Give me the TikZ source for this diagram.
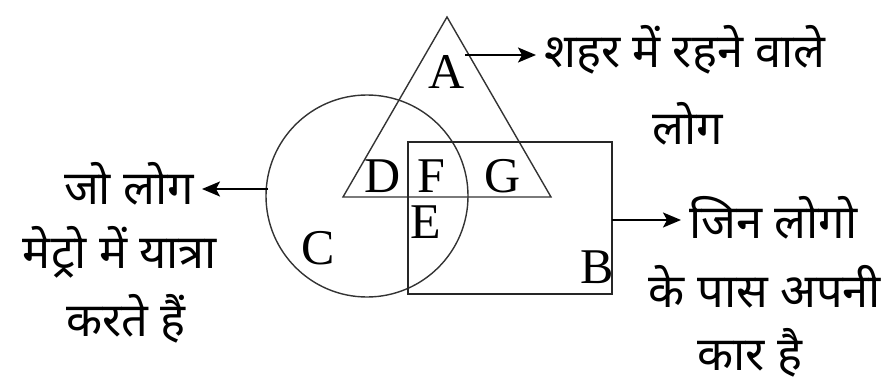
\documentclass[tikz,border=0pt]{standalone}
\usepackage{fontspec}
\setmainfont{Liberation Serif}
\newfontfamily\deva[Script=Devanagari]{Noto Sans}
\usetikzlibrary{arrows.meta}
\tikzset{
  shape line/.style={draw=black!80, line width=1.4pt},
  box line/.style={draw=black!85, line width=2.2pt},
  pointer/.style={draw=black, line width=2pt, shorten >=8pt, -{Stealth[length=18pt,width=15pt,inset=4pt]}},
  region/.style={font=\fontsize{50}{50}\selectfont, inner sep=0pt},
  htext/.style={font=\deva\fontsize{47}{48}\selectfont, inner sep=0pt},
}
\begin{document}
\begin{tikzpicture}[x=1pt,y=-1pt]
\useasboundingbox (0,0) rectangle (893,385);
% shapes
\draw[shape line] (447,17) -- (551,197) -- (343,197) -- cycle;
\draw[shape line] (367,196) circle (101);
\draw[box line] (408,142) rectangle (612,294);
% region labels
\node[region] (A) at (447,72) {A};
\node[region] (D) at (383,176) {D};
\node[region] (F) at (431,176) {F};
\node[region] (G) at (503,176) {G};
\node[region] (E) at (426,222) {E};
\node[region] (C) at (318,248) {C};
\node[region] (B) at (597,267) {B};
% texts
\node[htext, anchor=west] (t1) at (544,50) {शहर में रहने वाले};
\node[htext] (t1b) at (688,124) {लोग};
\node[htext, anchor=east] (t2) at (194,184) {जो लोग};
\node[htext] (t2b) at (120,252) {मेट्रो में यात्रा};
\node[htext] (t2c) at (126,319) {करते हैं};
\node[htext, anchor=west] (t3) at (689,218) {जिन लोगो};
\node[htext] (t3b) at (765,287) {के पास अपनी};
\node[htext] (t3c) at (750,353) {कार है};
% connectors
\coordinate (sA) at (465,55);
\coordinate (sC) at (268,189);
\coordinate (sB) at (612,220);
\draw[pointer] (sA) -- (sA -| t1.west);
\draw[pointer] (sC) -- (sC -| t2.east);
\draw[pointer] (sB) -- (sB -| t3.west);
\end{tikzpicture}
\end{document}
